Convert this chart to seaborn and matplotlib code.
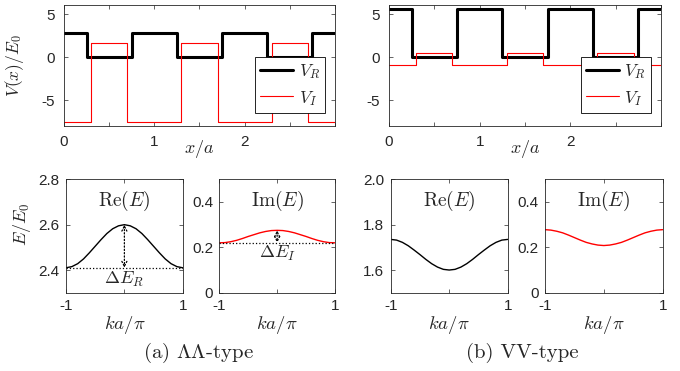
import numpy as np
import pandas as pd
import matplotlib
matplotlib.use('Agg')
import matplotlib.pyplot as plt
import seaborn as sns

# step potentials, one period = a (values held until next breakpoint)
x_vr = [0, 0.25, 0.75, 1.25, 1.75, 2.25, 2.75, 3.0]
x_vi = [0, 0.3, 0.7, 1.3, 1.7, 2.3, 2.7, 3.0]
vr_a = [2.8, 0, 2.8, 0, 2.8, 0, 2.8, 2.8]
vi_a = [-7.5, 1.7, -7.5, 1.7, -7.5, 1.7, -7.5, -7.5]
vr_b = [5.6, 0, 5.6, 0, 5.6, 0, 5.6, 5.6]
vi_b = [-0.9, 0.5, -0.9, 0.5, -0.9, 0.5, -0.9, -0.9]

# band dispersion
k = [-1.0, -0.9, -0.8, -0.7, -0.6, -0.5, -0.4, -0.3, -0.2, -0.1, 0.0,
     0.1, 0.2, 0.3, 0.4, 0.5, 0.6, 0.7, 0.8, 0.9, 1.0]
re_a = [2.410, 2.415, 2.428, 2.449, 2.476, 2.505, 2.534, 2.561, 2.582, 2.595, 2.600,
        2.595, 2.582, 2.561, 2.534, 2.505, 2.476, 2.449, 2.428, 2.415, 2.410]
im_a = [0.220, 0.221, 0.225, 0.231, 0.239, 0.248, 0.256, 0.264, 0.270, 0.274, 0.275,
        0.274, 0.270, 0.264, 0.256, 0.248, 0.239, 0.231, 0.225, 0.221, 0.220]
re_b = [1.735, 1.732, 1.722, 1.707, 1.688, 1.668, 1.647, 1.628, 1.613, 1.603, 1.600,
        1.603, 1.613, 1.628, 1.647, 1.668, 1.688, 1.707, 1.722, 1.732, 1.735]
im_b = [0.278, 0.276, 0.271, 0.264, 0.254, 0.243, 0.232, 0.222, 0.215, 0.210, 0.208,
        0.210, 0.215, 0.222, 0.232, 0.243, 0.254, 0.264, 0.271, 0.276, 0.278]

sns.set_theme(style='ticks')
plt.rcParams['font.family'] = ['Liberation Sans', 'DejaVu Sans']
plt.rcParams['mathtext.fontset'] = 'cm'
gray = '#262626'

fig = plt.figure(figsize=(6.8, 3.71), dpi=100)


def style(ax, pad):
    ax.tick_params(direction='in', top=True, right=True, length=3, width=0.5,
                   labelsize=11, colors=gray, pad=pad)
    for s in ax.spines.values():
        s.set_linewidth(0.6)
        s.set_color(gray)
    ax.set_xlabel('')
    ax.set_ylabel('')


def potential(rect, vr, vi, ylabel):
    ax = fig.add_axes(rect)
    sns.lineplot(x=x_vr, y=vr, ax=ax, color='black', lw=2.2, drawstyle='steps-post',
                 label=r'$V_R$')
    sns.lineplot(x=x_vi, y=vi, ax=ax, color='red', lw=0.8, drawstyle='steps-post',
                 label=r'$V_I$')
    ax.set_xlim(0, 3)
    ax.set_ylim(-8, 6)
    ax.set_xticks([0, 0.5, 1, 1.5, 2, 2.5, 3])
    ax.set_xticklabels(['0', '', '1', '', '2', '', ''])
    ax.set_yticks([-5, 0, 5])
    ax.set_yticklabels(['-5', '0', '5'])
    style(ax, 6.5)
    ax.set_xlabel(r'$x/a$', fontsize=13, color=gray)
    ax.xaxis.set_label_coords(0.5, -0.1)
    if ylabel:
        ax.set_ylabel(ylabel, fontsize=12.5, color=gray)
        ax.yaxis.set_label_coords(-0.14, 0.5)
    leg = ax.legend(loc='lower right', bbox_to_anchor=(0.963, 0.11), fontsize=12.5,
                    handlelength=1.9, handletextpad=0.3, labelspacing=0.45,
                    borderpad=0.3, borderaxespad=0,
                    fancybox=False, framealpha=1, edgecolor='black')
    leg.get_frame().set_linewidth(0.6)
    return ax


def band(rect, y, color, ylim, yticks, title, ylabel=None):
    ax = fig.add_axes(rect)
    sns.lineplot(x=k, y=y, ax=ax, color=color, lw=1.0)
    ax.set_xlim(-1, 1)
    ax.set_ylim(*ylim)
    ax.set_xticks([-1, 0, 1])
    ax.set_xticklabels(['-1', '', '1'])
    ax.set_yticks(yticks)
    ax.set_yticklabels([('%g' % t) if t != 2.0 else '2.0' for t in yticks])
    style(ax, 4.5)
    ax.set_xlabel(r'$ka/\pi$', fontsize=13.5, color=gray)
    ax.xaxis.set_label_coords(0.5, -0.19)
    ax.text(0.5, 0.81, title, transform=ax.transAxes, ha='center', va='center',
            fontsize=14)
    if ylabel:
        ax.set_ylabel(ylabel, fontsize=13, color=gray)
        ax.yaxis.set_label_coords(-0.28, 0.6)
    return ax


def delta(ax, lo, hi, label, ytext):
    ax.axhline(lo, ls=':', color='black', lw=0.9)
    ax.annotate('', xy=(0, lo), xytext=(0, hi),
                arrowprops=dict(arrowstyle='<->,head_length=0.3,head_width=0.15',
                                ls=':', lw=0.9, color='black', shrinkA=0, shrinkB=0))
    ax.text(0, ytext, label, ha='center', va='center', fontsize=13)


bot = 0.211
h = 0.3057
potential([0.0941, 0.6604, 0.3985, 0.3248], vr_a, vi_a, r'$V(x)/E_0$')
potential([0.572, 0.6604, 0.4, 0.3248], vr_b, vi_b, None)

ax1 = band([0.0971, bot, 0.1716, h], re_a, 'black', (2.3, 2.8), [2.4, 2.6, 2.8],
           r'$\mathrm{Re}(E)$', r'$E/E_0$')
delta(ax1, 2.41, 2.6, r'$\Delta E_R$', 2.357)
ax2 = band([0.3225, bot, 0.1701, h], im_a, 'red', (0, 0.5), [0, 0.2, 0.4],
           r'$\mathrm{Im}(E)$')
delta(ax2, 0.22, 0.275, r'$\Delta E_I$', 0.175)
band([0.5746, bot, 0.172, h], re_b, 'black', (1.5, 2.0), [1.6, 1.8, 2.0],
     r'$\mathrm{Re}(E)$')
band([0.8015, bot, 0.173, h], im_b, 'red', (0, 0.5), [0, 0.2, 0.4],
     r'$\mathrm{Im}(E)$')

fig.text(0.291, 0.048, r'(a) $\Lambda\Lambda$-type', ha='center', va='center',
         fontsize=15, family='cmr10')
fig.text(0.768, 0.048, r'(b) VV-type', ha='center', va='center',
         fontsize=15, family='cmr10')

fig.savefig('out.png', dpi=100)
